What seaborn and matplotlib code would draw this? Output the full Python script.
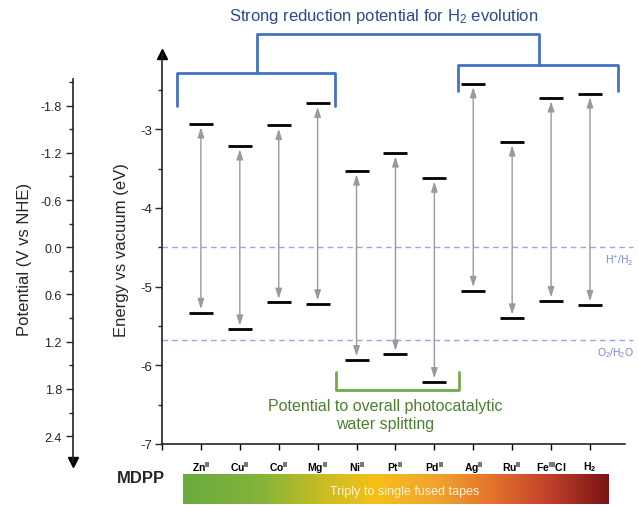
import numpy as np
import pandas as pd
import matplotlib
matplotlib.use("Agg")
import matplotlib.pyplot as plt
from matplotlib.colors import LinearSegmentedColormap
from matplotlib.lines import Line2D
import seaborn as sns

# ---- data -------------------------------------------------------------
metals = [r"$\mathbf{Zn^{II}}$", r"$\mathbf{Cu^{II}}$", r"$\mathbf{Co^{II}}$",
          r"$\mathbf{Mg^{II}}$", r"$\mathbf{Ni^{II}}$", r"$\mathbf{Pt^{II}}$",
          r"$\mathbf{Pd^{II}}$", r"$\mathbf{Ag^{II}}$", r"$\mathbf{Ru^{II}}$",
          r"$\mathbf{Fe^{III}Cl}$", r"$\mathbf{H_2}$"]
lumo = [-2.93, -3.21, -2.95, -2.67, -3.53, -3.30, -3.62, -2.42, -3.16, -2.60, -2.55]
homo = [-5.33, -5.54, -5.20, -5.22, -5.93, -5.86, -6.21, -5.05, -5.40, -5.18, -5.23]
h_level = -4.50      # H+/H2
o_level = -5.68      # O2/H2O
energy_ticks = [-7, -6, -5, -4, -3]
potential_ticks = [-1.8, -1.2, -0.6, 0.0, 0.6, 1.2, 1.8, 2.4]
nhe_offset = -4.5    # E(vac) = -4.5 - E(NHE)

# ---- style ------------------------------------------------------------
sns.set_theme(style="ticks")
plt.rcParams["font.family"] = ["Liberation Sans", "DejaVu Sans"]
plt.rcParams["mathtext.fontset"] = "custom"
plt.rcParams["mathtext.rm"] = "Liberation Sans"
plt.rcParams["mathtext.it"] = "Liberation Sans:italic"
plt.rcParams["mathtext.bf"] = "Liberation Sans:bold"

W, H = 638, 506
fig = plt.figure(figsize=(W / 100, H / 100), dpi=100)


def fpos(px, py):
    return px / W, 1 - py / H


BLUE = "#4472c4"
BLUE_TXT = "#2f4a8c"
GREEN = "#70ad47"
GREEN_TXT = "#4f7f30"
DASH = "#9ba4e4"
REF_TXT = "#7682d6"
GREY = "#9a9a9a"

# ---- main energy axis -------------------------------------------------
x_left, x_right, y_bot, y_top = 162, 625, 445, 55
ax = fig.add_axes([x_left / W, 1 - y_bot / H, (x_right - x_left) / W, (y_bot - y_top) / H])
ylo, yhi = -7.0, -7.0 + (y_bot - y_top) / 78.69
ax.set_xlim(0, 11.9)
ax.set_ylim(ylo, yhi)

xpos = np.arange(1, len(metals) + 1)
df = pd.DataFrame({
    "x": np.concatenate([xpos, xpos]),
    "E": lumo + homo,
})
sns.scatterplot(data=df, x="x", y="E", marker="_", s=300, color="black",
                linewidth=2.0, ax=ax, zorder=4, legend=False)

for x, t, b in zip(xpos, lumo, homo):
    ax.annotate("", xy=(x, t), xytext=(x, b),
                arrowprops=dict(arrowstyle="<|-|>,head_length=0.5,head_width=0.16",
                                color=GREY, lw=1.0, shrinkA=2.5, shrinkB=2.5),
                zorder=3)

for lvl in (h_level, o_level):
    ax.plot([0, 12.1], [lvl, lvl], color=DASH, lw=1.0, ls=(0, (4, 3)),
            clip_on=False, zorder=1)

ax.text(12.12, h_level - 0.07, r"H$^{+}$/H$_2$", color=REF_TXT, fontsize=7.5,
        ha="right", va="top")
ax.text(12.12, o_level - 0.07, r"O$_2$/H$_2$O", color=REF_TXT, fontsize=7.5,
        ha="right", va="top")

ax.set_yticks(energy_ticks)
ax.set_yticklabels([str(t) for t in energy_ticks], fontsize=9.5)
ax.set_yticks(np.arange(-6.5, -2.0, 1.0), minor=True)
ax.set_xticks([0] + list(xpos))
ax.set_xticklabels([""] + metals, fontsize=7.5)
ax.tick_params(axis="x", length=4, width=1, pad=7, colors="black")
ax.tick_params(axis="y", which="major", length=5, width=1, pad=2)
ax.tick_params(axis="y", which="minor", length=3, width=1)
ax.set_xlabel("")
ax.set_ylabel("Energy vs vacuum (eV)", fontsize=12, labelpad=8)
for s in ("top", "right"):
    ax.spines[s].set_visible(False)
for s in ("left", "bottom"):
    ax.spines[s].set_color("#222222")
    ax.spines[s].set_linewidth(1.2)
ax.plot(0, 1, marker="^", color="black", markersize=7, transform=ax.transAxes,
        clip_on=False)

# ---- potential (NHE) axis ----------------------------------------------
p_bot_px = 463


def e_at(py):
    return ylo + (y_bot - py) / 78.69


p_top = nhe_offset - e_at(y_top)
p_bot = nhe_offset - e_at(p_bot_px)
ax2 = fig.add_axes([73 / W, 1 - p_bot_px / H, 0.0001, (p_bot_px - y_top) / H])
ax2.set_ylim(p_bot, p_top)
ax2.set_facecolor("none")
ax2.set_xticks([])
for s in ("top", "right", "bottom"):
    ax2.spines[s].set_visible(False)
ax2.spines["left"].set_bounds(nhe_offset - e_at(80), p_bot)
ax2.spines["left"].set_color("#222222")
ax2.spines["left"].set_linewidth(1.2)
ax2.set_yticks(potential_ticks)
ax2.set_yticklabels([f"{t:.1f}" for t in potential_ticks], fontsize=9)
ax2.set_yticks(np.arange(-2.1, 2.8, 0.6), minor=True)
ax2.tick_params(axis="y", which="major", length=5, width=1, pad=3)
ax2.tick_params(axis="y", which="minor", length=3, width=1)
ax2.set_ylabel("Potential (V vs NHE)", fontsize=12, labelpad=6)
ax2.plot(0, 0, marker="v", color="black", markersize=7, transform=ax2.transAxes,
         clip_on=False)

# ---- brackets ------------------------------------------------------------
def bracket(pts, color):
    xs = [fpos(*p)[0] for p in pts]
    ys = [fpos(*p)[1] for p in pts]
    fig.add_artist(Line2D(xs, ys, color=color, lw=2.0, solid_capstyle="round",
                          solid_joinstyle="round"))

bracket([(177, 107), (177, 74), (335, 74), (335, 107)], BLUE)
bracket([(458, 92), (458, 66), (618, 66), (618, 92)], BLUE)
bracket([(257, 74), (257, 35), (539, 35), (539, 66)], BLUE)
bracket([(336, 373), (336, 391), (459, 391), (459, 373)], GREEN)

fig.text(*fpos(384, 17), r"Strong reduction potential for H$_2$ evolution",
         color=BLUE_TXT, fontsize=12, ha="center", va="center")
fig.text(*fpos(385, 415), "Potential to overall photocatalytic\nwater splitting",
         color=GREEN_TXT, fontsize=11.5, ha="center", va="center",
         linespacing=1.25)

# ---- MDPP gradient bar ---------------------------------------------------
fig.text(*fpos(141, 479), "MDPP", fontsize=12, fontweight="bold",
         ha="center", va="center")
cax = fig.add_axes([183 / W, 1 - 505 / H, (609 - 183) / W, 30 / H])
cmap = LinearSegmentedColormap.from_list(
    "tapes",
    [(0.0, "#6aab3e"), (0.18, "#84b43a"), (0.33, "#c9bc22"), (0.45, "#f6c018"),
     (0.6, "#f0a230"), (0.72, "#e6752c"), (0.86, "#c1402a"), (1.0, "#7a1414")])
cax.imshow(np.linspace(0, 1, 256)[None, :], aspect="auto", cmap=cmap,
           extent=(0, 1, 0, 1))
cax.set_axis_off()
cax.text(0.52, 0.42, "Triply to single fused tapes", color="#fff4d6",
         fontsize=9, ha="center", va="center", transform=cax.transAxes)

fig.savefig("out.png", dpi=100)
